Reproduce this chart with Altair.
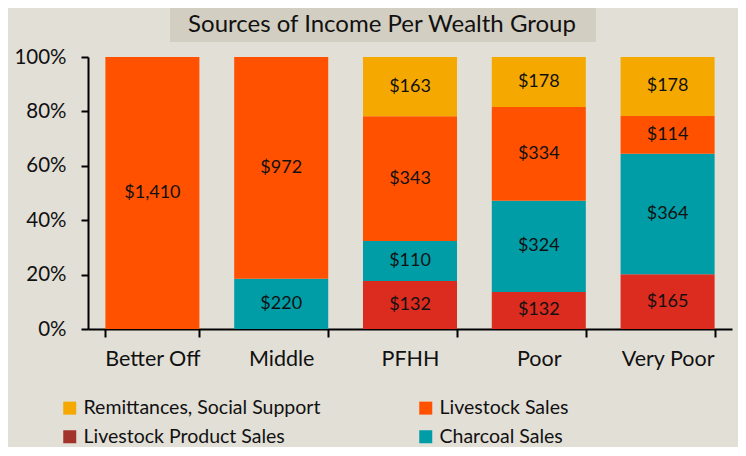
import altair as alt
import pandas as pd

groups = ["Better Off", "Middle", "PFHH", "Poor", "Very Poor"]
series = ["Casual Labour", "Charcoal Sales", "Livestock Product Sales", "Livestock Sales", "Remittances, Social Support"]
colors = ["#DC2B1F", "#009DA6", "#A2332A", "#FF5100", "#F5A900"]
legend_items = ["Remittances, Social Support", "Livestock Sales", "Livestock Product Sales", "Charcoal Sales"]

casual = [0, 0, 132, 132, 165]
charcoal = [0, 220, 110, 324, 364]
livestock_product = [0, 0, 0, 0, 0]
livestock = [1410, 972, 343, 334, 114]
remittances = [0, 0, 163, 178, 178]

values = [casual, charcoal, livestock_product, livestock, remittances]
rows = []
for si, (s, vals) in enumerate(zip(series, values)):
    for g, v in zip(groups, vals):
        rows.append({"group": g, "series": s, "value": v, "ord": si})
df = pd.DataFrame(rows)

FONT = "Lato"
BG = "#E2DFD7"

base = alt.Chart(df).transform_stack(
    stack="value", groupby=["group"], sort=[alt.SortField("ord", order="ascending")],
    offset="normalize", as_=["y0", "y1"]
).transform_calculate(mid="(datum.y0 + datum.y1) / 2")

xenc = alt.X("group:N", sort=groups, title=None,
             scale=alt.Scale(paddingInner=0.27, paddingOuter=0.135),
             axis=alt.Axis(labelAngle=0, labelFontSize=21.5, labelFont=FONT, labelColor="#111",
                           tickBand="extent", tickSize=8, tickColor="#000", tickWidth=2,
                           domainColor="#000", domainWidth=2, labelPadding=11))

bars = base.mark_bar().encode(
    x=xenc,
    y=alt.Y("y0:Q", title=None, scale=alt.Scale(domain=[0, 1]),
            axis=alt.Axis(format=".0%", values=[0, 0.2, 0.4, 0.6, 0.8, 1.0], labelFontSize=20.5,
                          labelFont=FONT, labelColor="#111", tickSize=7, tickColor="#000", tickWidth=2,
                          domainColor="#000", domainWidth=2, grid=False, labelPadding=15)),
    y2="y1:Q",
    color=alt.Color("series:N", scale=alt.Scale(domain=series, range=colors),
                    legend=alt.Legend(values=legend_items, title=None, orient="none",
                                      legendX=-28, legendY=341, columns=2, direction="horizontal",
                                      symbolType="square", symbolSize=169, symbolStrokeWidth=0,
                                      labelFont=FONT, labelFontSize=19.5, labelColor="#111",
                                      columnPadding=95, rowPadding=8, labelLimit=400,
                                      labelOffset=4, symbolOffset=0)),
)

labels = base.transform_filter("datum.value > 0").mark_text(
    fontSize=18, font=FONT, color="#111", baseline="middle"
).encode(
    x=alt.X("group:N", sort=groups),
    y=alt.Y("mid:Q"),
    text=alt.Text("value:Q", format="$,"),
)

title_box = alt.Chart(pd.DataFrame({"t": ["Sources of Income Per Wealth Group"]})).mark_rect(
    color="#D3CEC2"
).encode(x=alt.value(82), x2=alt.value(508), y=alt.value(-49), y2=alt.value(-15))

title_text = alt.Chart(pd.DataFrame({"t": ["Sources of Income Per Wealth Group"]})).mark_text(
    fontSize=24, font=FONT, color="#111", baseline="middle", align="center"
).encode(x=alt.value(294), y=alt.value(-32), text="t:N")

chart = alt.layer(title_box, title_text, bars, labels).properties(
    width=644, height=272, background=BG,
    autosize=alt.AutoSizeParams(type="none"),
    padding={"left": 80, "top": 49, "right": 6, "bottom": 118},
).configure_view(stroke=None)

chart.save("out.html", embed_options={"renderer": "svg", "actions": False})
